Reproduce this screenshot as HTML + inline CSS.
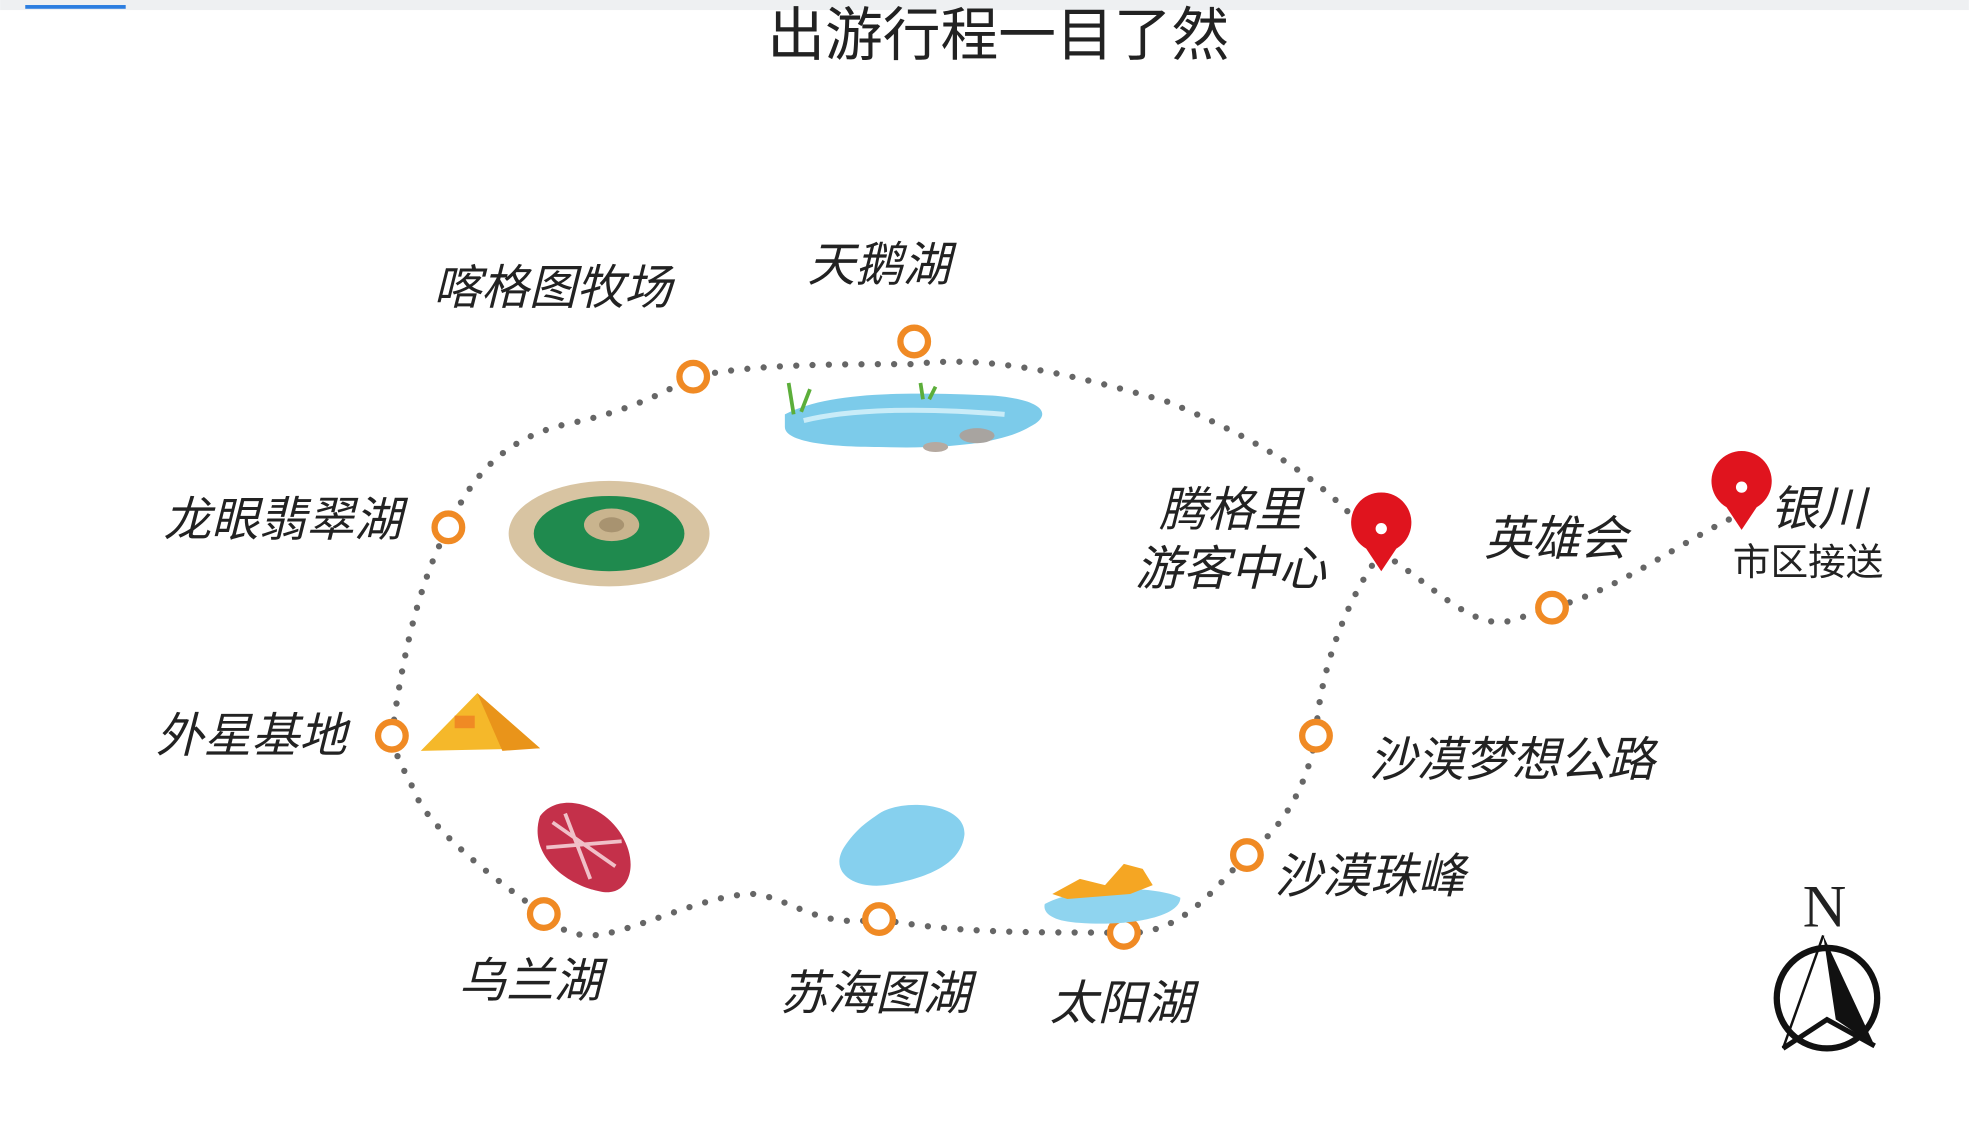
<!DOCTYPE html>
<html><head><meta charset="utf-8"><style>
html,body{margin:0;padding:0;background:#fff;width:1969px;height:1130px;overflow:hidden}
svg{display:block}
text{font-family:"Liberation Sans","Noto Sans CJK SC",sans-serif;fill:#222}
.l{font-size:38px;font-style:italic}
</style></head><body>
<svg width="1969" height="1130" viewBox="0 0 1568 900" xmlns="http://www.w3.org/2000/svg">
<rect x="0" y="0" width="1568" height="8" fill="#eef0f2"/>
<rect x="20" y="4" width="80" height="3" fill="#2b7de0"/>
<text x="795" y="44" text-anchor="middle" font-size="46" fill="#333">出游行程一目了然</text>
<g fill="none" stroke="#666" stroke-width="5" stroke-linecap="round" stroke-dasharray="0 13">
<path d="M312,586 C318,540 330,470 357,420 C375,380 400,350 450,338 C500,328 530,312 552,300 C600,290 660,290 728,290 C790,282 860,300 930,320 C990,345 1060,380 1100,440"/>
<path d="M1100,440 C1140,465 1170,500 1200,495 C1220,490 1230,484 1236,484 C1290,470 1340,430 1385,410"/>
<path d="M1100,440 C1070,480 1050,540 1048,586 C1040,630 1020,660 993,681 C965,710 940,745 895,743 C840,742 770,745 700,732 C650,740 630,715 600,712 C560,712 500,745 470,745 C450,745 440,735 433,728 C400,705 340,660 330,630 C320,610 314,600 312,586"/>
</g>
<g fill="#fff" stroke="#f08a24" stroke-width="5">
<circle cx="552" cy="300" r="11"/><circle cx="728" cy="272" r="11"/><circle cx="357" cy="420" r="11"/>
<circle cx="312" cy="586" r="11"/><circle cx="433" cy="728" r="11"/><circle cx="700" cy="732" r="11"/>
<circle cx="895" cy="743" r="11"/><circle cx="993" cy="681" r="11"/><circle cx="1048" cy="586" r="11"/>
<circle cx="1236" cy="484" r="11"/>
</g>
<g fill="#e0141e">
<path d="M1100,455 L1088,437 A24,24 0 1 1 1112,437 Z"/><circle cx="1100" cy="421" r="4.5" fill="#fff"/>
<path d="M1387,422 L1375,404 A24,24 0 1 1 1399,404 Z"/><circle cx="1387" cy="388" r="4.5" fill="#fff"/>
</g>
<g>
<path d="M625,330 C660,312 720,312 790,315 C830,318 840,330 820,340 C800,352 760,358 700,356 C660,356 625,352 625,340 Z" fill="#7ccbea"/>
<path d="M640,335 C680,325 740,325 800,330" stroke="#c9ecf8" stroke-width="4" fill="none"/>
<ellipse cx="778" cy="347" rx="14" ry="6" fill="#a8a4a0"/><ellipse cx="745" cy="356" rx="10" ry="4" fill="#b5a9a0"/>
<path d="M632,330 L628,305 M638,328 L645,310 M735,318 L733,305 M740,318 L745,308" stroke="#5cae3a" stroke-width="3"/>
</g>
<ellipse cx="485" cy="425" rx="80" ry="42" fill="#d8c4a2"/>
<ellipse cx="485" cy="425" rx="60" ry="30" fill="#1f8a4e"/>
<ellipse cx="487" cy="418" rx="22" ry="13" fill="#c9b48e"/>
<ellipse cx="487" cy="418" rx="10" ry="6" fill="#a89370"/>
<path d="M335,598 L380,552 L430,596 Z" fill="#f5b82a"/>
<path d="M380,552 L400,598 L430,596 Z" fill="#e9941a"/>
<rect x="362" y="570" width="16" height="10" fill="#f08a24"/>
<path d="M430,650 C445,630 480,640 495,665 C510,690 500,715 478,710 C450,705 420,680 430,650 Z" fill="#c4304a"/>
<path d="M440,655 L490,690 M450,648 L470,700 M435,675 L495,670" stroke="#f0c0c8" stroke-width="3" fill="none"/>
<path d="M700,648 C720,635 770,640 768,665 C765,690 735,700 705,705 C680,708 660,695 672,675 C682,660 690,655 700,648 Z" fill="#86d0ee"/>
<path d="M832,720 C860,705 920,705 940,715 C940,730 900,738 860,735 C840,734 830,728 832,720 Z" fill="#8fd4ef"/>
<path d="M838,712 L860,700 L880,705 L895,688 L910,692 L918,705 L900,712 L850,716 Z" fill="#f5a623"/>
<text class="l" x="440" y="242" text-anchor="middle">喀格图牧场</text>
<text class="l" x="700" y="224" text-anchor="middle">天鹅湖</text>
<text class="l" x="320" y="427" text-anchor="end">龙眼翡翠湖</text>
<text class="l" x="276" y="599" text-anchor="end">外星基地</text>
<text class="l" x="422" y="794" text-anchor="middle">乌兰湖</text>
<text class="l" x="697" y="804" text-anchor="middle">苏海图湖</text>
<text class="l" x="893" y="812" text-anchor="middle">太阳湖</text>
<text class="l" x="1015" y="711">沙漠珠峰</text>
<text class="l" x="1090" y="618">沙漠梦想公路</text>
<text class="l" x="980" y="419" text-anchor="middle">腾格里</text>
<text class="l" x="980" y="466" text-anchor="middle">游客中心</text>
<text class="l" x="1239" y="442" text-anchor="middle">英雄会</text>
<text class="l" x="1410" y="418">银川</text>
<text x="1380" y="458" font-size="30">市区接送</text>
<text x="1453" y="738" text-anchor="middle" font-size="48" style="font-family:'Liberation Serif',serif" fill="#111">N</text>
<circle cx="1455" cy="795" r="40" fill="none" stroke="#111" stroke-width="5"/>
<path d="M1452,745 L1420,835" stroke="#111" stroke-width="2"/>
<path d="M1452,745 L1493,833 L1462,812 Z" fill="#111"/>
<path d="M1420,835 L1455,812 L1493,833" fill="none" stroke="#111" stroke-width="4"/>
</svg>
</body></html>
